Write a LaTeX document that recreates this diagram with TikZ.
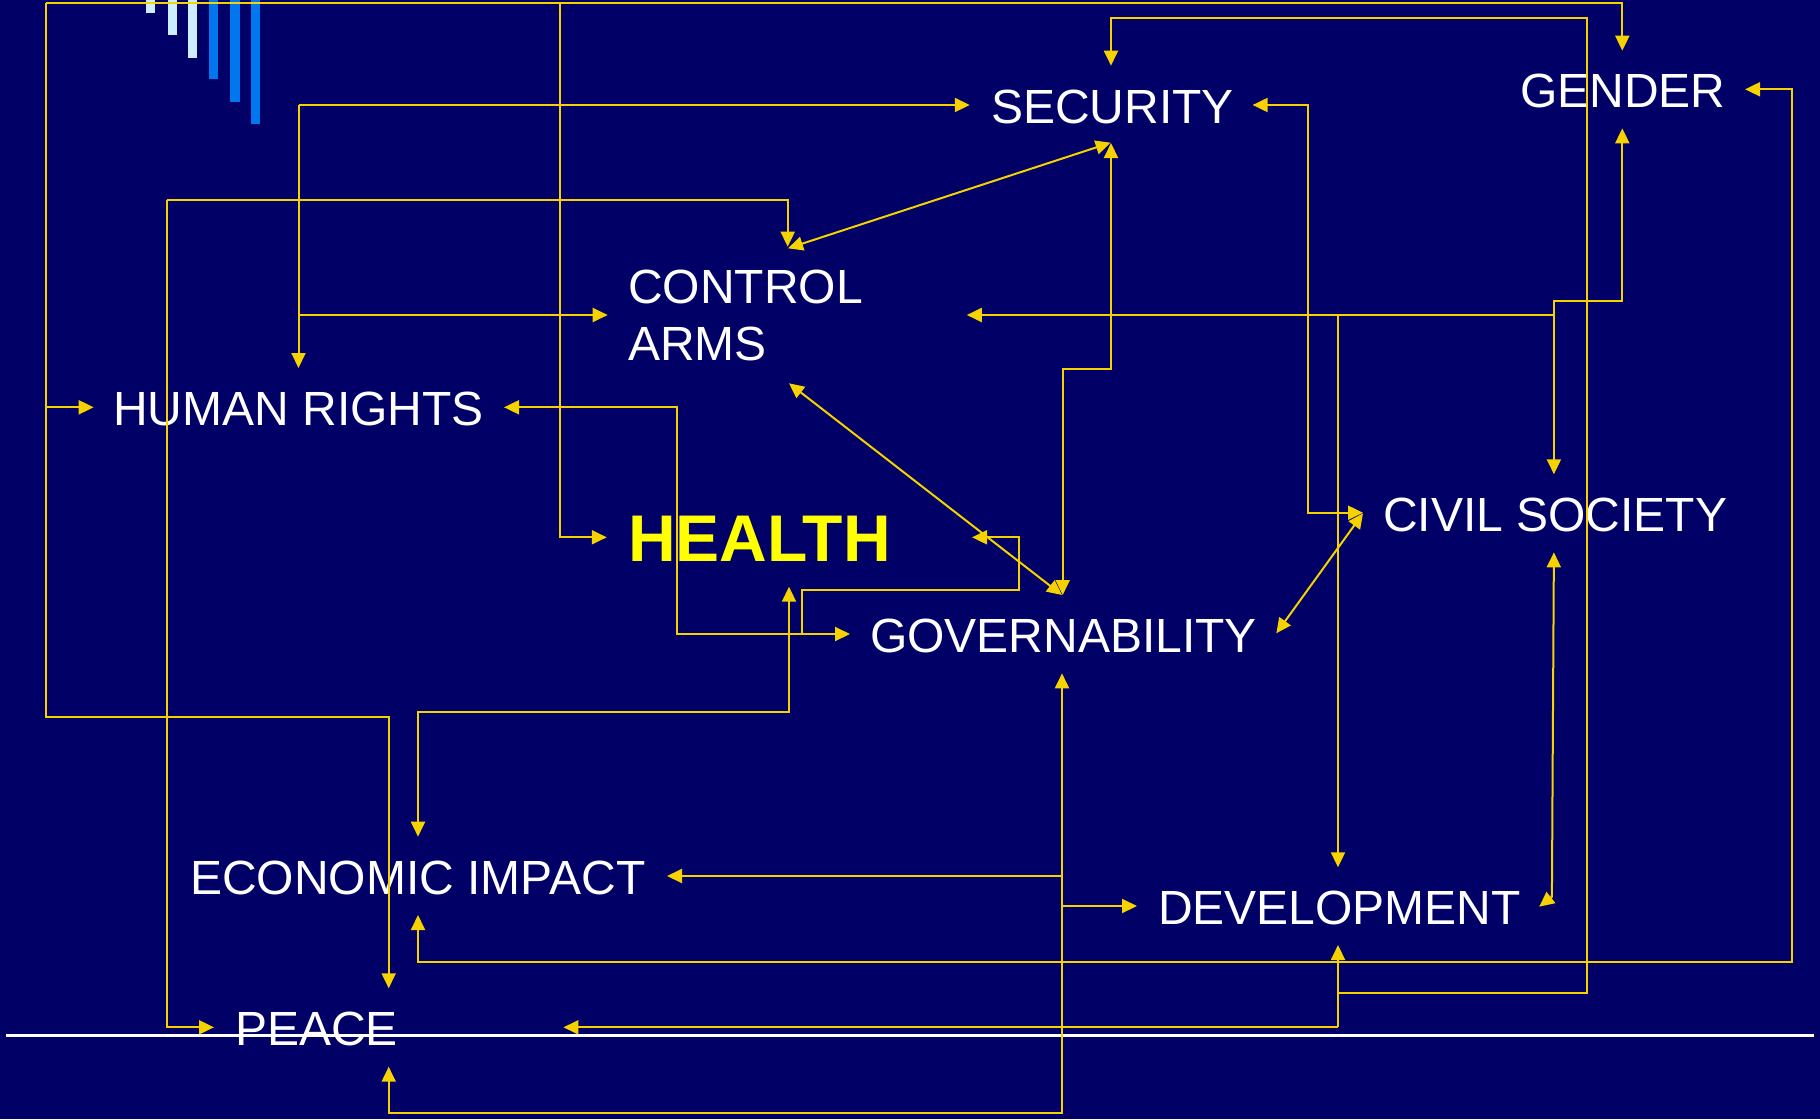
\documentclass[tikz,border=0pt]{standalone}
\usepackage{fontspec}
\setmainfont{Liberation Sans}
\usetikzlibrary{arrows.meta}
\definecolor{bgnavy}{RGB}{0,0,102}
\definecolor{lineyel}{RGB}{245,210,0}
\definecolor{barlight}{RGB}{204,238,255}
\definecolor{barblue}{RGB}{0,119,238}
\definecolor{hlyel}{RGB}{255,255,0}
\tikzset{
  lbl/.style={text=white, font=\fontsize{48}{57}\selectfont, inner sep=0pt, anchor=base west},
  conn/.style={draw=lineyel, line width=2pt},
  oneway/.style={conn, -{Triangle[length=15pt,width=14pt]}},
  twoway/.style={conn, {Triangle[length=15pt,width=14pt]}-{Triangle[length=15pt,width=14pt]}},
  barl/.style={fill=barlight},
  barb/.style={fill=barblue}
}
\begin{document}
\begin{tikzpicture}[x=1pt,y=-1pt]
\fill[bgnavy] (0,0) rectangle (1820,1119);
\useasboundingbox (0,0) rectangle (1820,1119);
% decorative bars
\fill[barl] (146,0) rectangle (155,12.7);
\fill[barl] (168,0) rectangle (177,34.7);
\fill[barl] (188,0) rectangle (197,57.7);
\fill[barb] (209,0) rectangle (218,79);
\fill[barb] (230,0) rectangle (240,101.7);
\fill[barb] (251,0) rectangle (260,123.7);
% white rule
\draw[white, line width=2.5pt] (6.3,1035.3) -- (1814,1035.3);
% labels
\node[lbl] (sec) at (991,123) {SECURITY};
\node[lbl] (gen) at (1520,107) {GENDER};
\node[lbl, anchor=west, align=left] (arms) at (628,315) {CONTROL\\ARMS};
\node[lbl] (hr) at (113,425) {HUMAN RIGHTS};
\node[lbl, text=hlyel, font=\bfseries\fontsize{66}{66}\selectfont] (health) at (628,561.7) {HEALTH};
\node[lbl] (gov) at (870,652.3) {GOVERNABILITY};
\node[lbl] (civ) at (1383,531.7) {CIVIL SOCIETY};
\node[lbl] (econ) at (190,894) {ECONOMIC IMPACT};
\node[lbl] (dev) at (1158,924) {DEVELOPMENT};
\node[lbl] (peace) at (235,1045) {PEACE};
% arrow ends and junctions
\coordinate (tl) at (46.3,3);
\coordinate (tr) at (1622.3,3);
\coordinate (hrW) at (93.7,407.3);
\coordinate (hrE) at (504,407.3);
\coordinate (hrN) at (298.5,368);
\coordinate (genN) at (1622.3,50.7);
\coordinate (genS) at (1622.3,128.3);
\coordinate (genE) at (1745,89.3);
\coordinate (peaceN) at (388.7,988.3);
\coordinate (peaceW) at (214,1027.3);
\coordinate (peaceE) at (563.4,1027.3);
\coordinate (peaceS) at (388.7,1066.7);
\coordinate (healthW) at (606.8,537.3);
\coordinate (healthS) at (789,586.7);
\coordinate (secW) at (969.8,105);
\coordinate (secN) at (1111,65.7);
\coordinate (secS) at (1111,143);
\coordinate (secSd) at (1110.6,142.7);
\coordinate (secE) at (1252.6,105);
\coordinate (armsW) at (607.7,315);
\coordinate (armsE) at (966.8,315);
\coordinate (armsN) at (787.7,246.7);
\coordinate (armsNd) at (788,248.3);
\coordinate (armsS) at (789,383.3);
\coordinate (govN) at (1062.7,595);
\coordinate (govNd) at (1062,595);
\coordinate (govW) at (850,634);
\coordinate (govS) at (1062,673.3);
\coordinate (govE) at (1276.3,633.3);
\coordinate (civW) at (1363,512.7);
\coordinate (civWd) at (1363,513.3);
\coordinate (civN) at (1553.9,474.3);
\coordinate (civS) at (1553.9,552.3);
\coordinate (econN) at (418,836.7);
\coordinate (econS) at (418,915);
\coordinate (econE) at (667,876);
\coordinate (devN) at (1338,867.3);
\coordinate (devS) at (1338,945);
\coordinate (devW) at (1137,906);
\coordinate (devE) at (1539.2,906.7);
\coordinate (crossTip) at (972,537.3);
% connectors
\draw[oneway] (tl) -- (46.3,717.3) -- (388.7,717.3) -- (peaceN);
\draw[oneway] (tl) -- (tr) -- (genN);
\draw[oneway] (46.3,407.3) -- (hrW);
\draw[oneway] (560,3) -- (560,537.3) -- (healthW);
\draw[oneway] (298.5,105) -- (secW);
\draw[oneway] (298.5,105) -- (hrN);
\draw[oneway] (298.5,315) -- (armsW);
\draw[oneway] (166.5,200) -- (787.7,200) -- (armsN);
\draw[oneway] (166.5,200) -- (166.5,1027.3) -- (peaceW);
\draw[twoway] (armsNd) -- (secSd);
\draw[oneway] (1338,992.7) -- (1586.7,992.7) -- (1586.7,18.3) -- (1111,18.3) -- (secN);
\draw[twoway] (secS) -- (1111,369.3) -- (1062.7,369.3) -- (govN);
\draw[twoway] (secE) -- (1308,105) -- (1308,512.7) -- (civW);
\draw[twoway] (genE) -- (1792.3,89.3) -- (1792.3,962.3) -- (418,962.3) -- (econS);
\draw[twoway] (genS) -- (1622.3,301) -- (1553.9,301) -- (civN);
\draw[oneway] (1553.9,315) -- (armsE);
\draw[oneway] (1338,315) -- (devN);
\draw[twoway] (civS) -- (1551.9,896.7) -- (devE);
\draw[twoway] (civWd) -- (govE);
\draw[twoway] (armsS) -- (govNd);
\draw[twoway] (hrE) -- (676.9,407.3) -- (676.9,634) -- (govW);
\draw[twoway] (healthS) -- (789,711.7) -- (418,711.7) -- (econN);
\draw[oneway] (801.9,634) -- (801.9,590) -- (1018.8,590) -- (1018.8,537.3) -- (crossTip);
\draw[twoway] (govS) -- (1062,1113.3) -- (388.7,1113.3) -- (peaceS);
\draw[oneway] (1062,876) -- (econE);
\draw[oneway] (1062,906) -- (devW);
\draw[oneway] (1338,1027.3) -- (peaceE);
\draw[oneway] (1338,1027.3) -- (devS);
\end{tikzpicture}
\end{document}
